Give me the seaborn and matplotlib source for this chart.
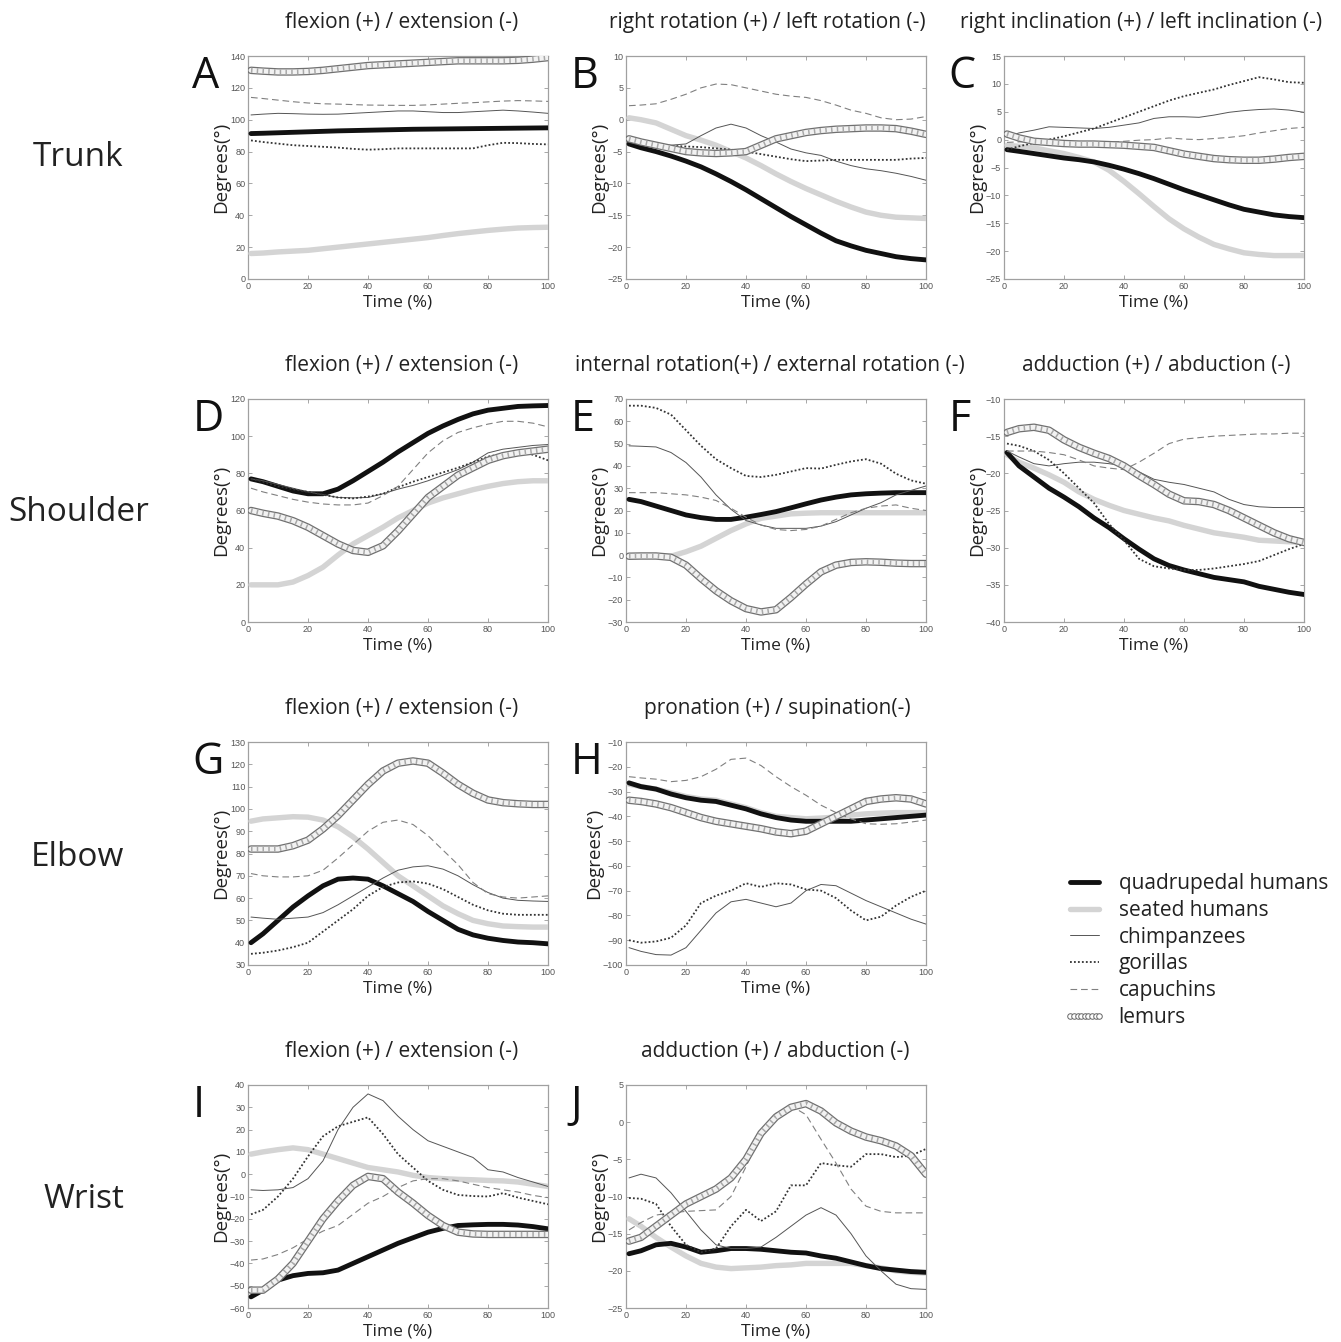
import matplotlib
matplotlib.use("Agg")
import matplotlib.pyplot as plt
from matplotlib.lines import Line2D
import seaborn as sns
import numpy as np
import pandas as pd

sns.set_theme(style="white")
plt.rcParams['font.family'] = ['Open Sans', 'DejaVu Sans']

# ---------------- data ----------------
time_pct = [1, 5, 10, 15, 20, 25, 30, 35, 40, 45, 50, 55, 60, 65, 70, 75, 80, 85, 90, 95, 100]

species = ["quadrupedal humans", "seated humans", "chimpanzees", "gorillas", "capuchins", "lemurs"]

panel_letters = ["A", "B", "C", "D", "E", "F", "G", "H", "I", "J"]
panel_titles = [
    "flexion (+) / extension (-)",
    "right rotation (+) / left rotation (-)",
    "right inclination (+) / left inclination (-)",
    "flexion (+) / extension (-)",
    "internal rotation(+) / external rotation (-)",
    "adduction (+) / abduction (-)",
    "flexion (+) / extension (-)",
    "pronation (+) / supination(-)",
    "flexion (+) / extension (-)",
    "adduction (+) / abduction (-)",
]
row_labels = ["Trunk", "Shoulder", "Elbow", "Wrist"]
y_ranges = [(0, 140, 20), (-25, 10, 5), (-25, 15, 5), (0, 120, 20), (-30, 70, 10),
            (-40, -10, 5), (30, 130, 10), (-100, -10, 10), (-60, 40, 10), (-25, 5, 5)]

# order in each panel: quad, seated, chimps, gorillas, capuchins, lemurs
A_vals = [
    [91.3, 91.5, 91.8, 92.1, 92.4, 92.7, 93, 93.2, 93.4, 93.6, 93.8, 94, 94.1, 94.2, 94.3, 94.4, 94.5, 94.6, 94.7, 94.8, 94.9],
    [16, 16.3, 17, 17.5, 18, 19, 20, 21, 22, 23, 24, 25, 26, 27.3, 28.5, 29.5, 30.5, 31.3, 32, 32.3, 32.5],
    [103, 103.5, 104, 103.8, 103.5, 103.4, 103.5, 104, 104.5, 105, 105.5, 105.5, 105, 104.5, 104.5, 105, 105.5, 106, 105.5, 104.8, 104],
    [87, 86, 85, 84, 83.5, 83, 82.5, 81.7, 81.2, 81.5, 82, 82, 82, 82, 82, 82, 84, 85.5, 85.3, 84.8, 84.5],
    [114, 113.3, 112.3, 111.3, 110.5, 110, 109.8, 109.5, 109.2, 109.1, 109, 109, 109.3, 109.8, 110.3, 110.7, 111.2, 111.7, 112, 111.8, 111.5],
    [131, 130.5, 130, 130, 130.3, 131, 132, 133, 134, 134.5, 135, 135.5, 136, 136.5, 137, 137, 137, 137, 137.3, 138, 139],
]
B_vals = [
    [-3.8, -4.4, -5, -5.7, -6.5, -7.4, -8.5, -9.7, -11, -12.4, -13.8, -15.2, -16.5, -17.8, -19, -19.8, -20.5, -21, -21.5, -21.8, -22],
    [0.3, 0, -0.5, -1.5, -2.5, -3.2, -4, -5, -6, -7.2, -8.5, -9.7, -10.8, -11.8, -12.8, -13.7, -14.5, -15, -15.3, -15.4, -15.5],
    [-3.5, -3.8, -4, -4, -3.8, -2.5, -1.3, -0.7, -1.3, -2.5, -3.5, -4.6, -5.2, -5.6, -6.5, -7.2, -7.7, -8, -8.4, -8.9, -9.5],
    [-3.5, -3.8, -4, -4.1, -4.2, -4.3, -4.5, -4.7, -5, -5.4, -5.8, -6.2, -6.5, -6.4, -6.3, -6.3, -6.3, -6.3, -6.3, -6.1, -6],
    [2.2, 2.3, 2.5, 3.2, 4, 5, 5.6, 5.5, 5, 4.5, 4, 3.7, 3.5, 3, 2.3, 1.5, 1, 0.3, 0, 0.1, 0.5],
    [-3, -3.5, -4, -4.5, -5, -5.2, -5.3, -5.2, -5, -4, -3, -2.5, -2, -1.7, -1.5, -1.4, -1.3, -1.3, -1.4, -1.8, -2.3],
]
C_vals = [
    [-1.8, -2.1, -2.5, -2.9, -3.3, -3.6, -4, -4.6, -5.3, -6.1, -7, -8, -9, -9.9, -10.8, -11.7, -12.5, -13, -13.5, -13.8, -14],
    [-1, -1.2, -1.5, -2, -2.5, -3.2, -4, -5.5, -7.5, -9.7, -12, -14.2, -16, -17.5, -18.8, -19.6, -20.3, -20.6, -20.8, -20.8, -20.8],
    [0.5, 1.2, 1.7, 2.3, 2.2, 2.1, 2, 2.2, 2.6, 3, 3.8, 4.1, 4.1, 4, 4.4, 4.9, 5.2, 5.4, 5.5, 5.3, 4.9],
    [-1.8, -1.2, -0.6, 0, 0.6, 1.3, 2, 3, 4, 5, 6, 7, 7.8, 8.4, 9, 9.8, 10.5, 11.2, 10.8, 10.3, 10.2],
    [-0.5, -0.4, -0.3, -0.4, -0.5, -0.6, -0.6, -0.5, -0.3, -0.1, 0, 0.3, 0.1, 0, 0.2, 0.4, 0.7, 1.2, 1.6, 2, 2.2],
    [1, 0.3, -0.3, -0.5, -0.7, -0.8, -0.8, -0.9, -1, -1.2, -1.4, -2, -2.6, -3, -3.4, -3.6, -3.7, -3.7, -3.5, -3.2, -3],
]
D_vals = [
    [77, 75.5, 73, 70.5, 69, 69, 71.5, 76, 81, 86, 91.5, 96.5, 101.5, 105.5, 109, 112, 114, 115, 116, 116.3, 116.5],
    [20, 20, 20, 21.5, 25, 29.5, 36, 42, 46.5, 51, 56, 60, 64, 66.8, 69, 71.2, 73, 74.5, 75.5, 76, 76],
    [77, 76, 74, 72, 70, 68.5, 67, 66.8, 67, 69, 71.5, 73.5, 76, 79, 82, 86, 91, 93, 94, 95, 95.5],
    [77, 75.5, 73, 71.5, 70, 68.5, 67, 66.5, 67.5, 69, 72.5, 75.5, 78, 80.5, 83, 86, 89, 90.5, 91.5, 90, 87],
    [72, 70, 68, 66, 64.5, 63.5, 63, 63, 64, 68, 73, 82, 91, 97.5, 102, 104.5, 106.5, 108, 108, 107, 105],
    [60, 58.5, 57, 54.5, 51, 46.5, 42, 38.5, 37.5, 41, 49, 58, 67, 73, 79, 83, 87, 89.5, 91, 92, 93],
]
E_vals = [
    [25, 24, 22, 20, 18, 16.8, 16, 16, 17, 18.2, 19.5, 21.2, 23, 24.7, 26, 27, 27.5, 27.8, 28, 28, 28],
    [-0.5, -0.5, -0.5, -0.5, 1.5, 4, 7.5, 11, 14, 16.5, 17.5, 18.5, 18.8, 19, 19, 19, 19, 19, 19, 19, 19],
    [49, 48.8, 48.5, 46, 41.5, 35, 27, 20.5, 15.5, 13.5, 12, 12, 12, 13, 15, 18, 21, 23.5, 27, 29, 31],
    [67, 67, 66, 63, 56, 49, 43, 39, 35.5, 35, 36, 37.5, 39, 38.8, 40.5, 42, 43, 41, 36.5, 33.5, 32],
    [28, 28, 28, 27.5, 27, 26, 24.5, 21, 17, 13.5, 11.5, 11, 11.5, 13, 16, 19, 21, 22, 22.5, 21, 20],
    [-0.5, -0.4, -0.4, -1, -4.5, -10.5, -16, -20.5, -24, -25.5, -24.5, -19, -13, -7.5, -4.5, -3.3, -3, -3.2, -3.6, -3.8, -3.8],
]
F_vals = [
    [-17.2, -19, -20.5, -22, -23.2, -24.5, -26, -27.3, -28.8, -30.2, -31.5, -32.4, -33, -33.5, -34, -34.3, -34.6, -35.2, -35.6, -36, -36.3],
    [-17.5, -18.5, -19.3, -20.2, -21.2, -22.5, -23.5, -24.3, -25, -25.5, -26, -26.4, -27, -27.5, -28, -28.3, -28.6, -29, -29.1, -29.2, -29.3],
    [-17, -17.8, -18.7, -19, -18.7, -18.5, -18.5, -18.7, -19, -19.8, -20.8, -21.2, -21.5, -22, -22.5, -23.5, -24.2, -24.5, -24.6, -24.6, -24.6],
    [-16, -16.3, -17, -18.2, -20, -22, -24, -26.8, -29, -31.5, -32.5, -32.8, -33, -33, -32.8, -32.5, -32.2, -31.8, -31, -30.2, -29.5],
    [-17, -17, -17, -17.2, -17.5, -18.2, -19, -19.3, -19.5, -18.5, -17.3, -16, -15.4, -15.2, -15, -14.9, -14.8, -14.7, -14.7, -14.6, -14.6],
    [-14.5, -14, -13.8, -14.2, -15.5, -16.5, -17.3, -18, -19, -20.3, -21.5, -22.8, -23.7, -23.8, -24.2, -25, -26, -27, -28, -28.8, -29.3],
]
G_vals = [
    [40, 44, 50, 56, 61, 65.5, 68.5, 69, 68.5, 65.5, 62, 58.5, 54, 50, 46, 43.5, 42, 41, 40.3, 40, 39.5],
    [94.5, 95.5, 96, 96.5, 96.3, 95, 92, 87.5, 82, 76, 70, 65.5, 61, 56.5, 53, 50, 48.5, 47.5, 47.2, 47, 47],
    [51.5, 51, 50.5, 51, 51.5, 53.5, 57, 61, 65, 69, 72.5, 74, 74.5, 73, 70, 66, 62.5, 60, 59, 58.7, 58.5],
    [35, 35.5, 36.5, 38, 40, 45, 50, 55, 61, 65, 67, 67.5, 66.5, 64, 60.5, 57, 54.5, 53, 52.5, 52.5, 52.5],
    [71, 70, 69.5, 69.5, 70, 72.5, 78, 84, 90, 94, 95, 93, 88, 81.5, 75, 67, 62, 60.5, 60, 60.5, 61],
    [82, 82, 82, 83.5, 86, 91, 97, 104, 111, 117, 120.5, 121.5, 120.5, 116, 111, 107, 104, 102.8, 102.3, 102, 102],
]
H_vals = [
    [-26.5, -28, -29, -31, -32.5, -33.5, -34, -35.5, -37, -39, -40.5, -41.5, -42, -42, -42, -42, -41.5, -41, -40.5, -40, -39.5],
    [-27, -28, -29, -30.5, -32, -33, -33.5, -35, -36.5, -38.5, -40, -40.5, -41, -40.7, -40.3, -39.5, -39, -38.7, -38.5, -38.5, -38.5],
    [-93, -94.5, -95.8, -96, -93, -86, -79, -74.5, -73.5, -75, -76.5, -75, -70, -67.5, -68, -71, -74, -76.5, -79, -81.5, -83.5],
    [-90, -91, -90.5, -89, -84, -75, -72, -70, -67, -68.5, -67, -67.5, -69.5, -70, -73, -78, -82, -80.5, -76, -72.5, -70],
    [-24, -24.5, -25, -26, -25.5, -24, -21, -17, -16.5, -19.5, -24, -28, -31.5, -35.5, -38.5, -41, -43, -43.2, -43, -42.3, -41.5],
    [-33.5, -34, -35, -36.5, -38.5, -40.5, -42, -43, -44, -45, -46.3, -47, -46, -43, -40, -37, -34, -33, -32.5, -33, -35],
]
I_vals = [
    [-55, -52, -47.5, -45.5, -44.5, -44.2, -43, -40, -37, -34, -31, -28.5, -26, -24.3, -23, -22.7, -22.5, -22.5, -22.8, -23.5, -24.5],
    [9, 10, 11, 11.8, 11, 9, 7, 5, 3, 2, 1, -0.5, -1.5, -2, -2.3, -2.5, -2.8, -3, -3.5, -4.5, -5.5],
    [-7, -7.3, -7, -6, -2, 6, 20, 30, 36, 33, 26, 20, 15, 12.5, 10, 7.5, 2, 1, -1.5, -3.5, -5.5],
    [-18, -16, -10, -2, 8, 17, 21.5, 23.5, 25.5, 18, 9, 3, -3, -7, -9.3, -9.8, -10, -8.5, -10.5, -12, -13.5],
    [-38.5, -38, -36, -33, -29, -25.5, -23, -18, -13, -10, -6, -3, -2, -2, -3, -4.5, -6, -7, -8, -9.5, -10.5],
    [-52, -52, -47, -40, -30, -20, -12, -5, -1, -2, -8, -13, -18.5, -23, -26, -26.8, -27, -27, -27, -27, -27],
]
J_vals = [
    [-17.7, -17.3, -16.5, -16.3, -16.8, -17.5, -17.3, -17, -17, -17.1, -17.3, -17.5, -17.6, -18, -18.3, -18.8, -19.3, -19.7, -19.9, -20.1, -20.2],
    [-13, -14, -15.5, -16.8, -18, -19, -19.5, -19.7, -19.6, -19.5, -19.3, -19.2, -19, -19, -19, -19, -19.3, -19.6, -20, -20.2, -20.3],
    [-7.5, -7, -7.5, -9.5, -12, -14.5, -16.5, -17, -17, -16.8, -15.5, -14, -12.5, -11.5, -12.5, -15, -18, -20, -21.8, -22.4, -22.5],
    [-10.2, -10.3, -11, -14, -16.5, -17.5, -17, -14, -11.8, -13.3, -12, -8.5, -8.5, -5.5, -5.8, -6, -4.3, -4.3, -4.7, -4.5, -3.6],
    [-14.5, -13.5, -12.5, -12.2, -12, -11.9, -11.8, -10, -6, -1.5, 1.2, 2.2, 1, -2.3, -5.5, -9, -11.3, -12, -12.2, -12.2, -12.2],
    [-16, -15.5, -14, -12.5, -11, -10, -9, -7.5, -5, -1.5, 0.7, 2, 2.5, 1.5, -0.1, -1.2, -2, -2.5, -3.2, -4.5, -7],
]
all_panels = [A_vals, B_vals, C_vals, D_vals, E_vals, F_vals, G_vals, H_vals, I_vals, J_vals]

# ---------------- styles ----------------
styles = {
    "quadrupedal humans": dict(color="#111111", lw=3.5, ls="-"),
    "seated humans": dict(color="#d4d4d4", lw=3.9, ls="-"),
    "chimpanzees": dict(color="#555555", lw=0.7, ls="-"),
    "gorillas": dict(color="#333333", lw=1.3, ls=(0, (1, 1.2))),
    "capuchins": dict(color="#808080", lw=0.8, ls=(0, (6, 3.5))),
}
draw_order = ["seated humans", "quadrupedal humans", "chimpanzees", "gorillas", "capuchins", "lemurs"]

W, H = 1341, 1342
fig = plt.figure(figsize=(W / 100, H / 100), dpi=100)

col_left = [248, 626, 1004]
row_top = [56, 399, 742, 1085]
ax_w, ax_h = 300, 223
positions = [(0, 0), (0, 1), (0, 2), (1, 0), (1, 1), (1, 2), (2, 0), (2, 1), (3, 0), (3, 1)]
title_dx = [4, -9, -13, 4, -6, 2, 4, 1, 4, -1]

tick_font = ['Liberation Sans', 'DejaVu Sans']

for i, (r, c) in enumerate(positions):
    left = col_left[c] / W
    bottom = 1 - (row_top[r] + ax_h) / H
    ax = fig.add_axes([left, bottom, ax_w / W, ax_h / H])
    vals = all_panels[i]
    df = pd.DataFrame({sp: v for sp, v in zip(species, vals)})
    df["time"] = time_pct
    for sp in draw_order:
        if sp == "lemurs":
            sns.lineplot(data=df, x="time", y=sp, ax=ax, color="#707070", lw=5.4,
                         solid_joinstyle="round", solid_capstyle="round", zorder=5)
            sns.lineplot(data=df, x="time", y=sp, ax=ax, color="#f2f2f2", lw=3.6,
                         solid_joinstyle="round", solid_capstyle="round", zorder=6)
            sns.lineplot(data=df, x="time", y=sp, ax=ax, color="#a8a8a8", lw=3.6,
                         ls=(0, (0.3, 0.85)), dash_capstyle="butt", zorder=7)
        else:
            st = styles[sp]
            sns.lineplot(data=df, x="time", y=sp, ax=ax, color=st["color"], lw=st["lw"],
                         ls=st["ls"], zorder=4 if sp != "seated humans" else 3)
    ymin, ymax, ystep = y_ranges[i]
    ax.set_xlim(0, 100)
    ax.set_ylim(ymin, ymax)
    ax.set_xticks(np.arange(0, 101, 20))
    ax.set_yticks(np.arange(ymin, ymax + 0.1, ystep))
    ax.tick_params(direction="in", length=3, width=0.6, color="#999999", labelsize=6.5,
                   labelcolor="#555555", top=True, right=True, pad=2,
                   left=True, bottom=True)
    for lab in ax.get_xticklabels() + ax.get_yticklabels():
        lab.set_fontfamily(tick_font)
    for s in ax.spines.values():
        s.set_color("#a0a0a0")
        s.set_linewidth(0.9)
    ax.set_xlabel("Time (%)", fontsize=12.5, color="#222222", labelpad=3)
    ax.set_ylabel("Degrees(°)", fontsize=13.5, color="#222222", labelpad=0)
    ax.set_title(panel_titles[i], fontsize=15, color="#222222", pad=20,
                 x=0.5 + title_dx[i] / ax_w)
    ax.text(-0.185, 1.005, panel_letters[i], transform=ax.transAxes, fontsize=31,
            ha="left", va="top", color="#111111")

row_centers = [157, 513, 857, 1200]
row_x = [78, 79, 77, 84]
for lab, yc, xc in zip(row_labels, row_centers, row_x):
    fig.text(xc / W, 1 - yc / H, lab, fontsize=24, ha="center", va="center", color="#222222")

# legend
handles = []
for sp in species:
    if sp == "lemurs":
        handles.append(Line2D([], [], ls="none", marker="o", ms=4, mfc="white",
                              mec="#666666", mew=0.7))
    else:
        st = styles[sp]
        handles.append(Line2D([], [], color=st["color"], lw=st["lw"], ls=st["ls"]))
fig.legend(handles, species, loc="upper left", bbox_to_anchor=(1064 / W, 1 - 873 / H),
           frameon=False, fontsize=15, handlelength=2.0, handletextpad=0.62,
           labelspacing=0.28, numpoints=9, borderaxespad=0, borderpad=0,
           labelcolor="#222222")

fig.savefig("out.png", dpi=100)
